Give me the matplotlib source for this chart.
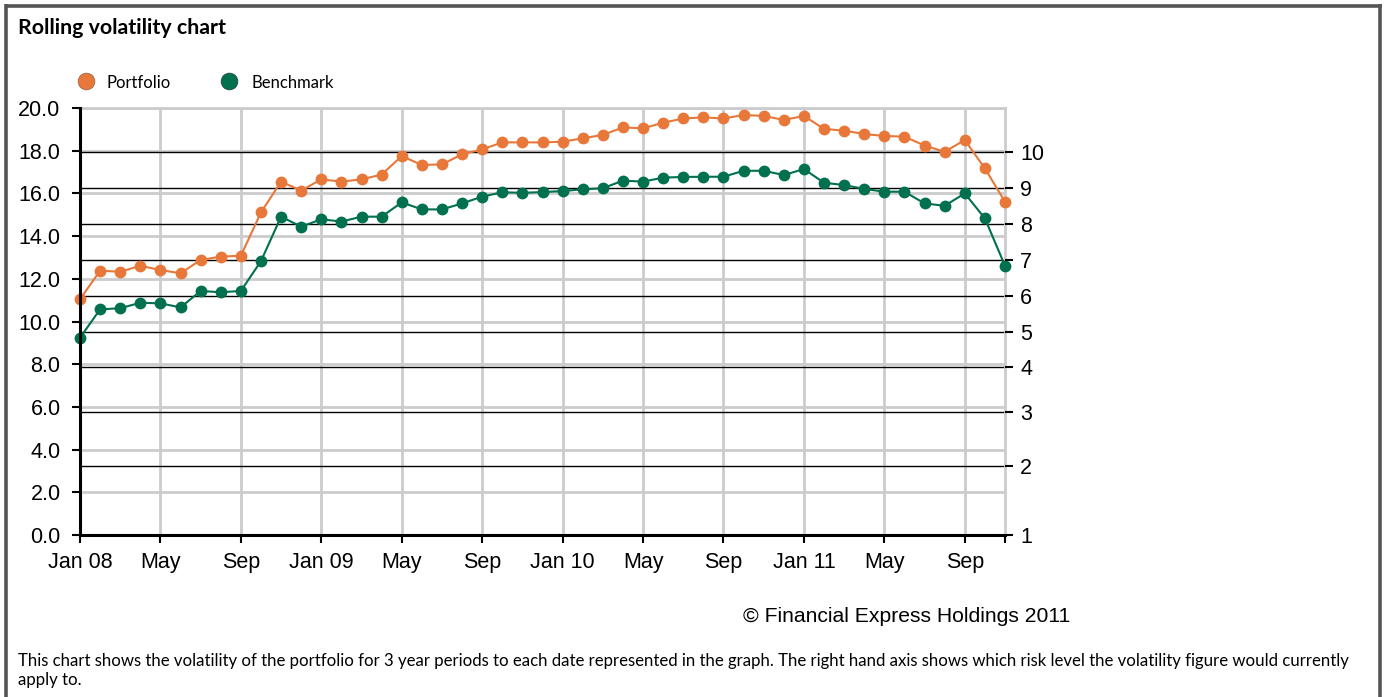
import matplotlib
matplotlib.use("Agg")
import matplotlib.pyplot as plt

# monthly 3-year rolling volatility, Jan 2008 .. Nov 2011
months = ["Jan 08", "Feb", "Mar", "Apr", "May", "Jun", "Jul", "Aug", "Sep", "Oct", "Nov", "Dec",
          "Jan 09", "Feb", "Mar", "Apr", "May", "Jun", "Jul", "Aug", "Sep", "Oct", "Nov", "Dec",
          "Jan 10", "Feb", "Mar", "Apr", "May", "Jun", "Jul", "Aug", "Sep", "Oct", "Nov", "Dec",
          "Jan 11", "Feb", "Mar", "Apr", "May", "Jun", "Jul", "Aug", "Sep", "Oct", "Nov"]

portfolio = [11.04, 12.38, 12.33, 12.61, 12.41, 12.26, 12.88, 13.04, 13.08, 15.11, 16.55, 16.13,
             16.66, 16.55, 16.66, 16.88, 17.75, 17.33, 17.36, 17.83, 18.06, 18.39, 18.39, 18.39,
             18.42, 18.58, 18.74, 19.09, 19.05, 19.31, 19.51, 19.56, 19.51, 19.67, 19.63, 19.44,
             19.63, 19.02, 18.94, 18.78, 18.69, 18.66, 18.24, 17.95, 18.50, 17.17, 15.61]

benchmark = [9.24, 10.57, 10.62, 10.88, 10.85, 10.66, 11.43, 11.37, 11.43, 12.83, 14.91, 14.44,
             14.79, 14.68, 14.91, 14.91, 15.58, 15.25, 15.25, 15.53, 15.85, 16.05, 16.03, 16.06,
             16.11, 16.19, 16.24, 16.60, 16.55, 16.74, 16.77, 16.78, 16.78, 17.06, 17.06, 16.86,
             17.14, 16.50, 16.39, 16.21, 16.08, 16.08, 15.53, 15.42, 16.00, 14.83, 12.61]

# volatility at which each risk level starts (right hand axis)
risk_levels = [1, 2, 3, 4, 5, 6, 7, 8, 9, 10]
risk_bounds = [0.0, 3.23, 5.76, 7.85, 9.50, 11.19, 12.88, 14.57, 16.25, 17.94]

orange = "#E8773A"
green = "#00704F"
grid_grey = "#CCCCCC"

fig = plt.figure(figsize=(13.88, 6.97), dpi=100)
ax = fig.add_axes([80 / 1388, 1 - 535 / 697, 925 / 1388, 427 / 697])

x = list(range(len(months)))
ax.set_xlim(0, len(months) - 1)
ax.set_ylim(0, 20)

ax.set_yticks([0, 2, 4, 6, 8, 10, 12, 14, 16, 18, 20])
ax.set_yticklabels([f"{v:.1f}" for v in ax.get_yticks()], family="Liberation Sans", fontsize=15.5)
ax.set_xticks(x[::4])
ax.set_xticklabels(months[::4], family="Liberation Sans", fontsize=15.5)
ax.set_xticks([x[-1]], minor=True)
ax.tick_params(axis="both", which="both", direction="out", length=6, width=1.5, color="black")
ax.tick_params(axis="y", pad=8)
ax.tick_params(axis="x", pad=6)

ax.grid(True, color=grid_grey, linewidth=2)
ax.set_axisbelow(True)
for side in ("top", "right"):
    ax.spines[side].set_color(grid_grey)
    ax.spines[side].set_linewidth(2)
for side in ("left", "bottom"):
    ax.spines[side].set_color("black")
    ax.spines[side].set_linewidth(2.2)
    ax.spines[side].set_zorder(5)

for b in risk_bounds[1:]:
    ax.axhline(b, color="black", linewidth=1.0, zorder=1.5)

ax.plot(x, portfolio, color=orange, linewidth=1.5, marker="o", markersize=8.5,
        markeredgewidth=0, zorder=3, clip_on=False)
ax.plot(x, benchmark, color=green, linewidth=1.5, marker="o", markersize=8.5,
        markeredgewidth=0, zorder=3, clip_on=False)

# right hand axis: risk levels
rax = ax.twinx()
rax.set_ylim(ax.get_ylim())
rax.set_yticks(risk_bounds)
rax.set_yticklabels([str(r) for r in risk_levels], family="Liberation Sans", fontsize=15.5)
rax.tick_params(axis="y", direction="out", length=6, width=1.5, color="black", pad=5)
for s in rax.spines.values():
    s.set_visible(False)

# page furniture drawn in pixel coordinates
page = fig.add_axes([0, 0, 1, 1], zorder=-1)
page.set_xlim(0, 1388)
page.set_ylim(697, 0)
page.axis("off")
frame = "#555555"
page.plot([6.5, 6.5], [4, 697], color=frame, linewidth=2.6, solid_capstyle="butt")
page.plot([5, 1382], [5.5, 5.5], color=frame, linewidth=2.6, solid_capstyle="butt")
page.plot([1380.5, 1380.5], [4, 697], color=frame, linewidth=2.6, solid_capstyle="butt")

page.text(18, 28.5, "Rolling volatility chart", family="Lato", fontweight="bold",
          fontsize=15.4, va="center", ha="left")

page.plot([86], [81], marker="o", markersize=12, color=orange, markeredgecolor="#9a6a50",
          markeredgewidth=0.6)
page.text(107, 83, "Portfolio", family="Lato", fontsize=12, va="center", ha="left")
page.plot([229], [81], marker="o", markersize=12, color=green, markeredgecolor="#2a4a40",
          markeredgewidth=0.6)
page.text(252, 83, "Benchmark", family="Lato", fontsize=12, va="center", ha="left")

page.text(743, 617, "\u00a9 Financial Express Holdings 2011", family="Liberation Sans",
          fontsize=15.2, va="center", ha="left")

page.text(18, 661, "This chart shows the volatility of the portfolio for 3 year periods to each "
          "date represented in the graph. The right hand axis shows which risk level the "
          "volatility figure would currently", family="Lato", fontsize=12.05, va="center", ha="left")
page.text(18, 680, "apply to.", family="Lato", fontsize=12.05, va="center", ha="left")

fig.savefig("out.png", dpi=100)
